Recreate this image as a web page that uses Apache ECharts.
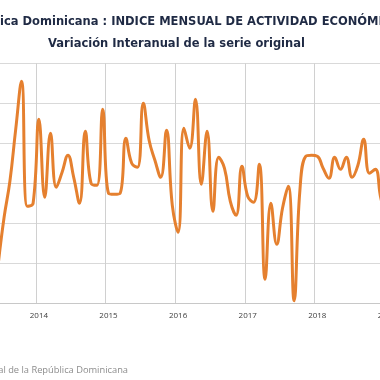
<!DOCTYPE html>
<html>
<head>
<meta charset="utf-8">
<script src="https://cdn.jsdelivr.net/npm/echarts@6/dist/echarts.min.js"></script>
<style>
html,body{margin:0;padding:0;background:#fff;}
#chart{width:380px;height:380px;}
</style>
</head>
<body>
<div id="chart"></div>
<script>
// Months (the chart is cropped: 2013 and 2019 are only partly visible)
const months = [
  '2013-01','2013-02','2013-03','2013-04','2013-05','2013-06','2013-07','2013-08','2013-09','2013-10','2013-11','2013-12',
  '2014-01','2014-02','2014-03','2014-04','2014-05','2014-06','2014-07','2014-08','2014-09','2014-10','2014-11','2014-12',
  '2015-01','2015-02','2015-03','2015-04','2015-05','2015-06','2015-07','2015-08','2015-09','2015-10','2015-11','2015-12',
  '2016-01','2016-02','2016-03','2016-04','2016-05','2016-06','2016-07','2016-08','2016-09','2016-10','2016-11','2016-12',
  '2017-01','2017-02','2017-03','2017-04','2017-05','2017-06','2017-07','2017-08','2017-09','2017-10','2017-11','2017-12',
  '2018-01','2018-02','2018-03','2018-04','2018-05','2018-06','2018-07','2018-08','2018-09','2018-10','2018-11','2018-12',
  '2019-01'
];
// Year-over-year variation (%) (null = outside the visible crop)
const variacion = [
  null, null, null, null, null, 2.0, 4.3, 6.1, 8.7, 11.1, 4.85, 5.0,
  9.2, 5.3, 8.5, 5.8, 6.55, 7.4, 6.3, 5.0, 8.6, 6.0, 5.9, 9.7,
  5.5, 5.45, 5.5, 8.25, 7.0, 6.8, 10.0, 8.15, 7.15, 6.3, 8.65, 4.9,
  3.55, 8.75, 7.75, 10.2, 5.95, 8.6, 4.6, 7.3, 6.75, 5.1, 4.4, 6.85,
  5.35, 5.05, 6.95, 1.2, 5.0, 2.95, 4.75, 5.85, 0.13, 5.65, 7.35, 7.4,
  7.35, 6.75, 6.25, 7.3, 6.7, 7.3, 6.3, 6.9, 8.2, 6.5, 6.7, 5.2,
  4.5
];
const yTicks = [0, 2, 4, 6, 8, 10, 12];

const titleText = 'República Dominicana : INDICE MENSUAL DE ACTIVIDAD ECONÓMICA';
const subtitleText = 'Variación Interanual de la serie original';
const sourceText = 'Fuente: Banco Central de la República Dominicana';

const titleFont = 'bold 11.5px "DejaVu Sans"';
const cv = document.createElement('canvas').getContext('2d');
cv.font = titleFont;
const hiddenW = cv.measureText('Repúbl').width;

const bandW = 5.8;
const chart = echarts.init(document.getElementById('chart'), null, {renderer: 'canvas'});
chart.setOption({
  backgroundColor: '#ffffff',
  animation: false,
  grid: {
    left: 36 - 12 * bandW, width: months.length * bandW, top: 63.3, height: 240,
    outerBoundsMode: 'none', containLabel: false
  },
  xAxis: {
    type: 'category',
    data: months,
    boundaryGap: true,
    axisLine: {show: true, lineStyle: {color: '#c8c8c8', width: 1}},
    axisTick: {show: false, interval: 11},
    axisLabel: {
      interval: 11,
      formatter: v => v.slice(0, 4),
      color: '#404040',
      fontFamily: 'Open Sans',
      fontSize: 8,
      margin: 8
    },
    splitLine: {
      show: true,
      interval: 11,
      lineStyle: {color: '#d0d0d0', width: 1}
    }
  },
  yAxis: {
    type: 'value',
    min: yTicks[0],
    max: yTicks[yTicks.length - 1],
    interval: 2,
    axisLine: {show: false},
    axisTick: {show: false},
    axisLabel: {show: false},
    splitLine: {lineStyle: {color: '#d9d9d9', width: 1}}
  },
  series: [{
    type: 'line',
    data: variacion,
    smooth: 0.45,
    symbol: 'none',
    lineStyle: {color: '#E5802F', width: 3},
    clip: true
  }],
  graphic: [
    {type: 'text', x: -hiddenW, y: 21.7, style: {text: titleText, font: titleFont, fill: '#1f2a44', textVerticalAlign: 'middle'}},
    {type: 'text', x: 176.5, y: 44, style: {text: subtitleText, font: titleFont, fill: '#1f2a44', textAlign: 'center', textVerticalAlign: 'middle'}},
    {type: 'text', x: 128, y: 370, style: {text: sourceText, font: '9.3px "Open Sans"', fill: '#8c8c8c', textAlign: 'right', textVerticalAlign: 'middle'}}
  ]
});
</script>
</body>
</html>
